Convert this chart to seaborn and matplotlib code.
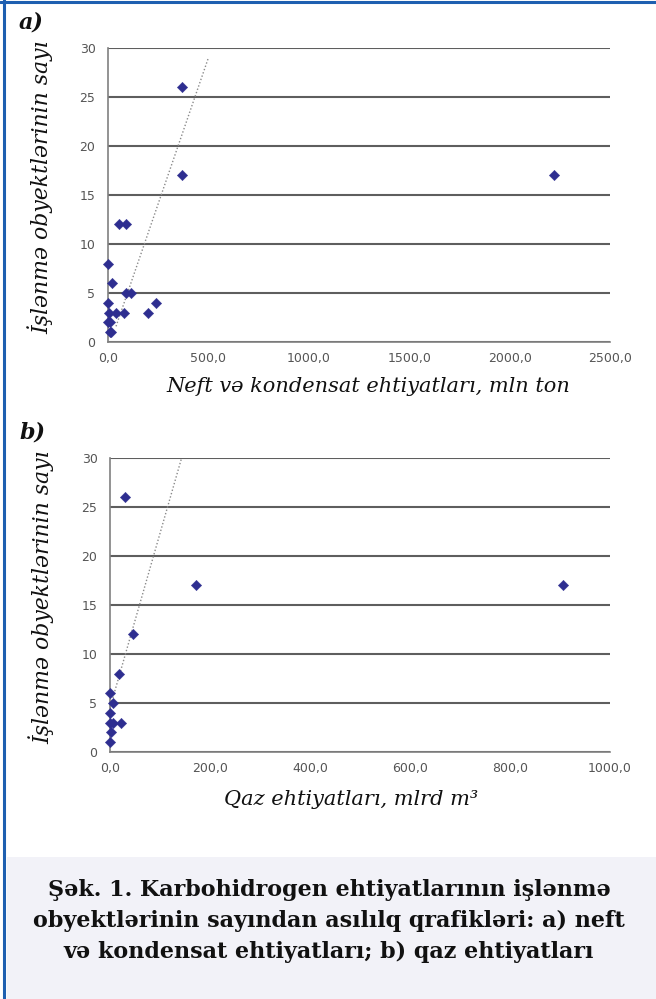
import matplotlib
matplotlib.use("Agg")
import matplotlib.pyplot as plt
from matplotlib.lines import Line2D
from matplotlib.patches import Rectangle
from matplotlib.ticker import FuncFormatter
import seaborn as sns
import pandas as pd

# ---- data ----
oil_reserves = [367, 370, 2220, 56, 88, 0, 22, 89, 115, 0, 237, 5, 42, 79, 199, 0, 8, 8, 17]
oil_objects = [26, 17, 17, 12, 12, 8, 6, 5, 5, 4, 4, 3, 3, 3, 3, 2, 2, 1, 1]
oil_trend_x = [40, 500]
oil_trend_y = [1.6, 29.0]

gas_reserves = [30, 172, 905, 46, 18.5, 0, 5, 0, 0, 5, 21, 2, 0]
gas_objects = [26, 17, 17, 12, 8, 6, 5, 4, 3, 3, 3, 2, 1]
gas_trend_x = [0, 146]
gas_trend_y = [4.5, 30.5]

y_ticks = [0, 5, 10, 15, 20, 25, 30]
oil_xticks = [0, 500, 1000, 1500, 2000, 2500]
gas_xticks = [0, 200, 400, 600, 800, 1000]

ylabel = "İşlənmə obyektlərinin sayı"
oil_xlabel = "Neft və kondensat ehtiyatları, mln ton"
gas_xlabel = "Qaz ehtiyatları, mlrd m³"
caption = ("Şək. 1. Karbohidrogen ehtiyatlarının işlənmə\n"
           "obyektlərinin sayından asılılq qrafikləri: a) neft\n"
           "və kondensat ehtiyatları; b) qaz ehtiyatları")

sns.set_theme(style="white")
plt.rcParams['font.family'] = ['DejaVu Sans']

W, H = 656, 999
fig = plt.figure(figsize=(W / 100, H / 100), dpi=100)
fig.patch.set_facecolor("white")

def fx(px):
    return px / W

def fy(py):
    return 1 - py / H

# caption background box
fig.add_artist(Rectangle((fx(7), 0), 1 - fx(7), fy(857), transform=fig.transFigure,
                         facecolor="#f2f2f8", edgecolor="none", zorder=0))
# blue border lines
fig.add_artist(Line2D([fx(4), fx(4)], [0, 1], transform=fig.transFigure,
                      color="#1e5fb0", lw=2.2))
fig.add_artist(Line2D([0, 1], [fy(2), fy(2)], transform=fig.transFigure,
                      color="#1e5fb0", lw=2.2))

fmt = FuncFormatter(lambda v, p: f"{v:.1f}".replace(".", ","))

def make_panel(left_px, right_px, top_px, bottom_px, xs, ys, tx, ty, xticks,
               xlabel, xlab_coords, ylab_coords):
    ax = fig.add_axes([fx(left_px), fy(bottom_px), fx(right_px) - fx(left_px),
                       fy(top_px) - fy(bottom_px)])
    ax.set_facecolor("none")
    df = pd.DataFrame({"x": xs, "y": ys})
    tdf = pd.DataFrame({"x": tx, "y": ty})
    sns.lineplot(data=tdf, x="x", y="y", ax=ax, color="#8a8a8a", lw=1.0,
                 linestyle=(0, (1, 1.5)), zorder=2)
    sns.scatterplot(data=df, x="x", y="y", ax=ax, marker="D", s=28,
                    color="#2e2e90", edgecolor="#2e2e90", linewidth=0.3,
                    clip_on=False, zorder=4)
    ax.set_xlim(xticks[0], xticks[-1])
    ax.set_ylim(0, 30)
    ax.set_xticks(xticks)
    ax.set_yticks(y_ticks)
    ax.xaxis.set_major_formatter(fmt)
    ax.yaxis.grid(True, color="#5e5e5e", lw=1.5)
    ax.xaxis.grid(False)
    ax.set_axisbelow(True)
    for s in ["top", "right"]:
        ax.spines[s].set_visible(False)
    for s in ["left", "bottom"]:
        ax.spines[s].set_color("#808080")
        ax.spines[s].set_linewidth(1.2)
    ax.tick_params(axis="both", labelsize=9, labelcolor="#555555",
                   colors="#808080", length=4, width=1, direction="out", pad=3)
    ax.tick_params(axis="y", length=5, pad=4)
    ax.set_xlabel(xlabel, fontsize=15, family="DejaVu Serif", style="italic",
                  color="#111111")
    ax.set_ylabel(ylabel, fontsize=15.8, family="DejaVu Serif", style="italic",
                  color="#111111")
    ax.xaxis.set_label_coords(*xlab_coords)
    ax.yaxis.set_label_coords(*ylab_coords)
    return ax

make_panel(108, 610, 48, 342, oil_reserves, oil_objects, oil_trend_x, oil_trend_y,
           oil_xticks, oil_xlabel, (0.518, -0.12), (-0.108, 0.525))
make_panel(110, 610, 458, 752, gas_reserves, gas_objects, gas_trend_x, gas_trend_y,
           gas_xticks, gas_xlabel, (0.482, -0.128), (-0.112, 0.527))

fig.text(fx(19), fy(22), "a)", fontsize=16, family="DejaVu Serif", style="italic",
         weight="bold", ha="left", va="center", color="#111111")
fig.text(fx(19), fy(432), "b)", fontsize=16, family="DejaVu Serif", style="italic",
         weight="bold", ha="left", va="center", color="#111111")

fig.text(fx(329), fy(921), caption, fontsize=16, family="DejaVu Serif",
         weight="bold", ha="center", va="center", linespacing=1.55,
         color="#111111")

fig.savefig("out.png", dpi=100)
